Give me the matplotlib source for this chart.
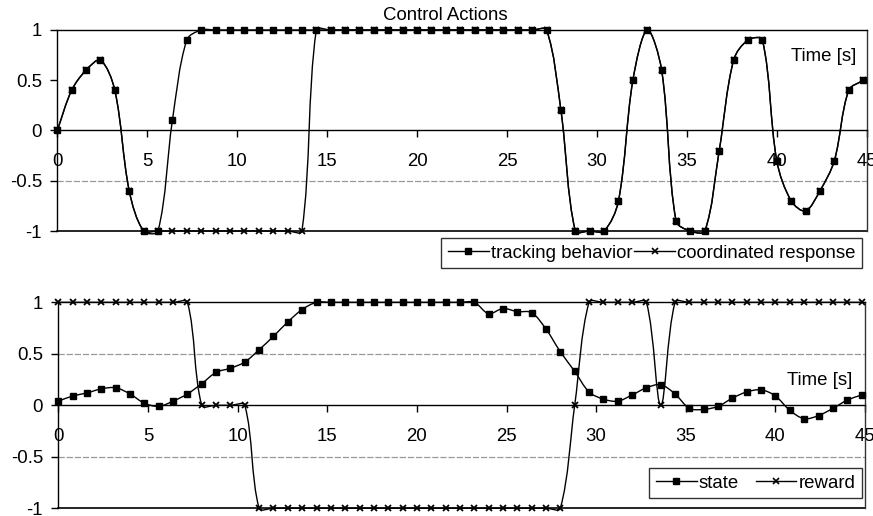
import numpy as np
import matplotlib
matplotlib.use('Agg')
import matplotlib.pyplot as plt
from matplotlib.path import Path
from matplotlib.patches import PathPatch
from matplotlib.lines import Line2D

plt.rcParams['font.family'] = ['Liberation Sans', 'DejaVu Sans']
plt.rcParams['axes.unicode_minus'] = False

# ---------------- data ----------------
time_s = [round(0.8 * i, 1) for i in range(57)]

tracking_behavior = [0, 0.4, 0.6, 0.7, 0.4, -0.6, -1, -1, 0.1, 0.9,
                     1, 1, 1, 1, 1, 1, 1, 1, 1, 1, 1, 1, 1, 1, 1, 1, 1, 1, 1, 1, 1, 1, 1, 1, 1,
                     0.2, -1, -1, -1, -0.7, 0.5, 1.0, 0.6, -0.9, -1, -1, -0.2, 0.7, 0.9, 0.9,
                     -0.3, -0.7, -0.8, -0.6, -0.3, 0.4, 0.5]
coordinated_response = [0, 0.4, 0.6, 0.7, 0.4, -0.6, -1, -1,
                        -1, -1, -1, -1, -1, -1, -1, -1, -1, -1,
                        1, 1, 1, 1, 1, 1, 1, 1, 1, 1, 1, 1, 1, 1, 1, 1, 1,
                        0.2, -1, -1, -1, -0.7, 0.5, 1.0, 0.6, -0.9, -1, -1, -0.2, 0.7, 0.9, 0.9,
                        -0.3, -0.7, -0.8, -0.6, -0.3, 0.4, 0.5]

state = [0.04, 0.09, 0.12, 0.16, 0.17, 0.11, 0.02, -0.01, 0.04, 0.11,
         0.21, 0.32, 0.36, 0.42, 0.54, 0.67, 0.81, 0.93,
         1, 1, 1, 1, 1, 1, 1, 1, 1, 1, 1, 1,
         0.89, 0.94, 0.91, 0.90, 0.74, 0.52, 0.33, 0.13, 0.06, 0.04,
         0.10, 0.17, 0.20, 0.11, -0.03, -0.04, -0.01, 0.07, 0.13, 0.15,
         0.09, -0.05, -0.13, -0.10, -0.03, 0.05, 0.10]
reward = [1, 1, 1, 1, 1, 1, 1, 1, 1, 1,
          0, 0, 0, 0,
          -1, -1, -1, -1, -1, -1, -1, -1, -1, -1, -1, -1, -1, -1, -1, -1, -1, -1, -1, -1, -1, -1,
          0, 1, 1, 1, 1, 1, 0,
          1, 1, 1, 1, 1, 1, 1, 1, 1, 1, 1, 1, 1, 1]

x_ticks = [0, 5, 10, 15, 20, 25, 30, 35, 40, 45]
x_tick_labels = ['0', '5', '10', '15', '20', '25', '30', '35', '40', '45']
y_ticks = [-1, -0.5, 0, 0.5, 1]
y_tick_labels = ['-1', '-0.5', '0', '0.5', '1']

FS = 13.4


def smooth_path(ax, x, y, f=1.0 / 3.0):
    """Excel-like smoothed line: Bezier segments whose control points are
    scaled by neighbouring chord lengths (computed in display space)."""
    data = np.column_stack([np.asarray(x, float), np.asarray(y, float)])
    trans = ax.transData
    pts = trans.transform(data)
    n = len(pts)
    out_c = np.zeros_like(pts)
    in_c = np.zeros_like(pts)
    for i in range(n):
        pm = pts[i - 1] if i > 0 else pts[i]
        pn = pts[i + 1] if i < n - 1 else pts[i]
        d = pn - pm
        lp = np.hypot(*(pts[i] - pm))
        ln = np.hypot(*(pn - pts[i]))
        tot = lp + ln if (lp + ln) > 0 else 1.0
        out_c[i] = pts[i] + d * f * ln / tot
        in_c[i] = pts[i] - d * f * lp / tot
    verts = [pts[0]]
    codes = [Path.MOVETO]
    for i in range(n - 1):
        verts += [out_c[i], in_c[i + 1], pts[i + 1]]
        codes += [Path.CURVE4] * 3
    verts = trans.inverted().transform(np.array(verts))
    return Path(verts, codes)


def draw_series(ax, x, y, marker, ms, mew=1.0):
    ax.add_patch(PathPatch(smooth_path(ax, x, y), facecolor='none', edgecolor='black',
                           lw=1.0, clip_on=False, zorder=3))
    ax.plot(x, y, ls='none', marker=marker, ms=ms, color='black', mew=mew,
            clip_on=False, zorder=4)


def setup(ax, grid_levels):
    ax.set_xlim(0, 45)
    ax.set_ylim(-1, 1)
    ax.spines['bottom'].set_position(('data', 0))
    for s in ax.spines.values():
        s.set_linewidth(1.0)
        s.set_color('black')
    ax.spines['right'].set_color('#333333')
    ax.axhline(-1, color='black', lw=1.2, clip_on=False, zorder=2)
    for g in grid_levels:
        ax.axhline(g, color='#9a9a9a', lw=0.9, ls=(0, (5, 1.5)), zorder=0)
    ax.set_xticks(x_ticks)
    ax.set_xticklabels(x_tick_labels)
    ax.set_yticks(y_ticks)
    ax.set_yticklabels(y_tick_labels)
    ax.tick_params(axis='x', direction='out', length=5, pad=11, labelsize=FS, width=1)
    ax.tick_params(axis='y', direction='out', length=5, pad=6, labelsize=FS, width=1)
    ax.set_facecolor('none')


fig = plt.figure(figsize=(8.73, 5.16), dpi=100)

ax1 = fig.add_axes([0.0656, 0.5523, 0.9272, 0.3896])
ax2 = fig.add_axes([0.0668, 0.0150, 0.9242, 0.3991])

setup(ax1, [-0.5])
setup(ax2, [0.5, -0.5])

draw_series(ax1, time_s, tracking_behavior, 's', 3.8)
draw_series(ax1, time_s, coordinated_response, 'x', 5, 1.3)
draw_series(ax2, time_s, state, 's', 3.8)
draw_series(ax2, time_s, reward, 'x', 5, 1.3)

ax1.text(44.4, 0.74, 'Time [s]', ha='right', va='center', fontsize=FS)
ax2.text(44.3, 0.24, 'Time [s]', ha='right', va='center', fontsize=FS)

fig.text(445 / 873, 1 - 16 / 516, 'Control Actions', ha='center', va='center', fontsize=FS)

h_sq = Line2D([], [], color='black', lw=1, marker='s', ms=3.8)
h_x = Line2D([], [], color='black', lw=1, marker='x', ms=5, mew=1.2)

leg1 = fig.legend([h_sq, h_x], ['tracking behavior', 'coordinated response'],
                  loc='upper right', bbox_to_anchor=(862 / 873, 1 - 238 / 516),
                  ncol=2, fontsize=FS, frameon=True, fancybox=False,
                  handlelength=2.2, handletextpad=0.1, columnspacing=0.1,
                  borderpad=0.35, borderaxespad=0)
leg1.get_frame().set_edgecolor('black')
leg1.get_frame().set_linewidth(1.0)

leg2 = ax2.legend([h_sq, h_x], ['state', 'reward'],
                  loc='lower right', bbox_to_anchor=(861.7 / 873, 1 - 498.3 / 516),
                  bbox_transform=fig.transFigure,
                  ncol=2, fontsize=FS, frameon=True, fancybox=False,
                  handlelength=2.2, handletextpad=0.1, columnspacing=0.9,
                  borderpad=0.35, borderaxespad=0)
leg2.get_frame().set_edgecolor('black')
leg2.get_frame().set_linewidth(1.0)

fig.savefig('out.png', dpi=100)
